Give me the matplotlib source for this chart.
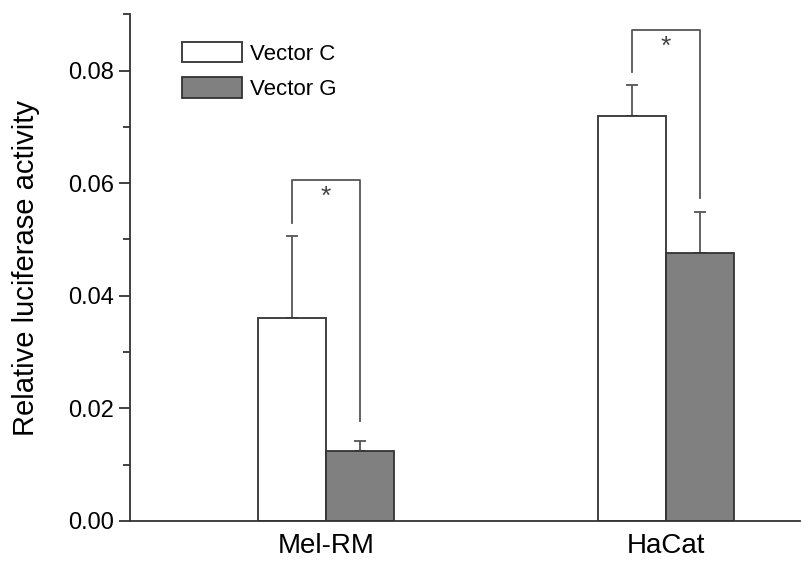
import matplotlib
matplotlib.use("Agg")
import matplotlib.pyplot as plt
from matplotlib.ticker import MultipleLocator

plt.rcParams['font.family'] = ['Liberation Sans', 'DejaVu Sans']

# data
groups = ['Mel-RM', 'HaCat']
vec_c = [0.0361, 0.0719]
vec_c_err = [0.0146, 0.0055]
vec_g = [0.0124, 0.0476]
vec_g_err = [0.0018, 0.0072]
# significance brackets: (top, left leg end, right leg end)
brackets = [(0.0605, 0.0530, 0.0177), (0.0872, 0.0797, 0.0574)]

fig = plt.figure(figsize=(8.03, 5.70), dpi=100)
ax = fig.add_axes([0.1619, 0.086, 0.834, 0.889])

x = [1, 2]
w = 0.2
edge = '#333333'
xc = [i - w / 2 for i in x]
xg = [i + w / 2 for i in x]

ax.bar(xc, vec_c, width=w, color='white', edgecolor=edge, linewidth=1.3, label='Vector C', zorder=2)
ax.bar(xg, vec_g, width=w, color='#808080', edgecolor=edge, linewidth=1.3, label='Vector G', zorder=2)

ax.errorbar(xc, vec_c, yerr=[[0, 0], vec_c_err], fmt='none', ecolor='#555555',
            elinewidth=1.3, capsize=4, capthick=1.3, zorder=1)
ax.errorbar(xg, vec_g, yerr=[[0, 0], vec_g_err], fmt='none', ecolor='#555555',
            elinewidth=1.3, capsize=4, capthick=1.3, zorder=1)

for i, (top, lo1, lo2) in enumerate(brackets):
    ax.plot([xc[i], xc[i], xg[i], xg[i]], [lo1, top, top, lo2], color='#555555', lw=1.3)
    ax.text(x[i], top - 0.0008, '*', ha='center', va='top', fontsize=19, color='#444444')

ax.set_xlim(0.424, 2.394)
ax.set_ylim(0, 0.09)
ax.set_xticks(x)
ax.set_xticklabels(groups, fontsize=20)
ax.tick_params(axis='x', length=0, pad=9)
ax.yaxis.set_major_locator(MultipleLocator(0.02))
ax.yaxis.set_minor_locator(MultipleLocator(0.01))
ax.set_yticks([0, 0.02, 0.04, 0.06, 0.08])
ax.set_yticklabels(['0.00', '0.02', '0.04', '0.06', '0.08'])
ax.tick_params(axis='y', which='major', length=8, width=1.3, labelsize=17, color='#333333')
ax.tick_params(axis='y', which='minor', length=5, width=1.3, color='#333333')
ax.set_ylabel('Relative luciferase activity', fontsize=21, labelpad=20)

ax.spines['top'].set_visible(False)
ax.spines['right'].set_visible(False)
ax.spines['left'].set_linewidth(1.3)
ax.spines['bottom'].set_linewidth(1.3)
ax.spines['left'].set_color('#333333')
ax.spines['bottom'].set_color('#333333')

ax.legend(loc='upper left', bbox_to_anchor=(0.048, 0.985), frameon=False, fontsize=16,
          handlelength=2.7, handleheight=1.05, labelspacing=0.55, handletextpad=0.35)

fig.savefig('out.png', dpi=100)
